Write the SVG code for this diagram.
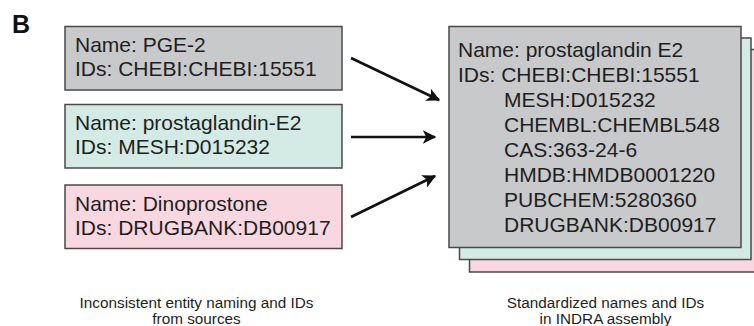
<svg xmlns="http://www.w3.org/2000/svg" width="754" height="326" viewBox="0 0 754 326">
<style>
.box{stroke:#4a4a4a;stroke-width:1.5}
.gray{fill:#c8c9cb}
.green{fill:#d3ebe4}
.pink{fill:#f9d7e1}
.t{font-family:"Liberation Sans",Arial,sans-serif;font-size:21px;fill:#1e1e1e}
.cap{font-family:"Liberation Sans",Arial,sans-serif;font-size:15.3px;fill:#1e1e1e;text-anchor:middle}
.conn{stroke:#111;stroke-width:2.6;fill:none;marker-end:url(#ah)}
</style>
<defs>
<marker id="ah" viewBox="0 0 10 10" refX="9" refY="5" markerWidth="6" markerHeight="5.2" markerUnits="strokeWidth" orient="auto">
<path d="M0,0 L10,5 L0,10 L2.5,5 Z" fill="#111"/>
</marker>
</defs>
<rect width="754" height="326" fill="#fff"/>
<text x="12" y="33" font-family="Liberation Sans,Arial,sans-serif" font-size="25" font-weight="bold" fill="#111">B</text>

<g id="src-pge2">
<rect class="box gray" x="65" y="26.5" width="277" height="63.5"/>
<text class="t" x="75" y="52">Name: PGE-2</text>
<text class="t" x="75" y="76">IDs: CHEBI:CHEBI:15551</text>
</g>
<g id="src-mesh">
<rect class="box green" x="65" y="104.5" width="277" height="63.5"/>
<text class="t" x="75" y="130">Name: prostaglandin-E2</text>
<text class="t" x="75" y="154">IDs: MESH:D015232</text>
</g>
<g id="src-drugbank">
<rect class="box pink" x="65" y="185" width="277" height="63.5"/>
<text class="t" x="75" y="210.5">Name: Dinoprostone</text>
<text class="t" x="75" y="234.5">IDs: DRUGBANK:DB00917</text>
</g>

<g id="connectors">
<line class="conn" x1="351" y1="58" x2="439" y2="100"/>
<line class="conn" x1="351" y1="137" x2="435" y2="137"/>
<line class="conn" x1="351" y1="217" x2="435" y2="176"/>
</g>

<g id="assembled">
<rect class="box pink" x="469.5" y="49.5" width="290" height="222.5"/>
<rect class="box green" x="459.5" y="38" width="291.5" height="221.5"/>
<rect class="box gray" x="449" y="26.5" width="292" height="221"/>
<text class="t" x="458" y="56.5">Name: prostaglandin E2</text>
<text class="t" x="458" y="81.5">IDs: CHEBI:CHEBI:15551</text>
<text class="t" x="504" y="106.5">MESH:D015232</text>
<text class="t" x="504" y="131.5">CHEMBL:CHEMBL548</text>
<text class="t" x="504" y="156.5">CAS:363-24-6</text>
<text class="t" x="504" y="181.5">HMDB:HMDB0001220</text>
<text class="t" x="504" y="206.5">PUBCHEM:5280360</text>
<text class="t" x="504" y="231.5">DRUGBANK:DB00917</text>
</g>

<g id="captions">
<text class="cap" x="196.5" y="308">Inconsistent entity naming and IDs</text>
<text class="cap" x="196.5" y="323.5">from sources</text>
<text class="cap" x="605.5" y="308">Standardized names and IDs</text>
<text class="cap" x="605.5" y="323.5">in INDRA assembly</text>
</g>
</svg>
